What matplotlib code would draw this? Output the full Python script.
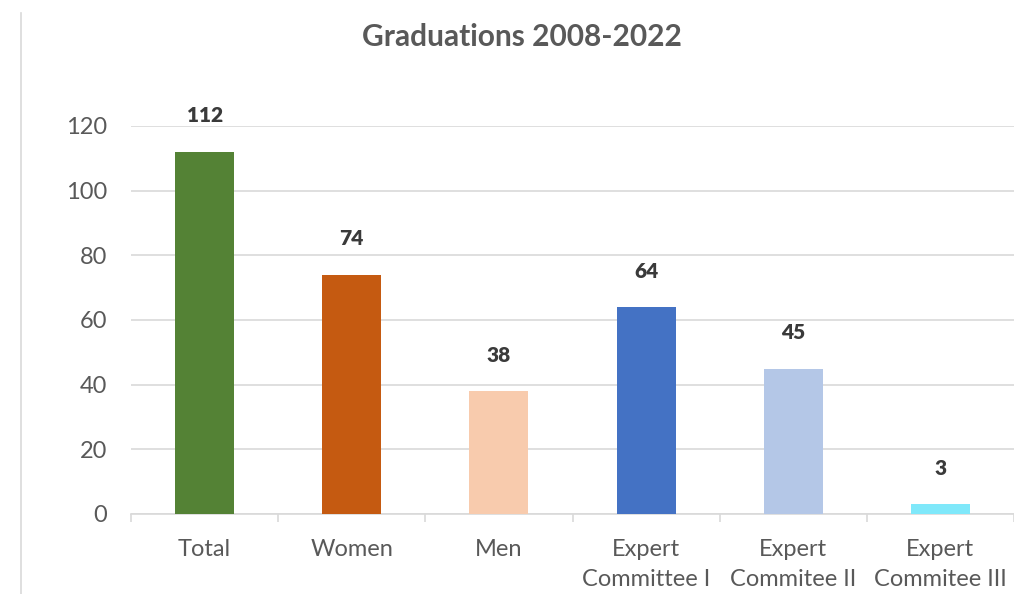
import numpy as np
import matplotlib.pyplot as plt
from matplotlib.lines import Line2D

# dati
categorie = ["Total", "Women", "Men", "Expert\nCommittee I", "Expert\nCommitee II", "Expert\nCommitee III"]
valori = [112, 74, 38, 64, 45, 3]
colori = ["#548235", "#C55A11", "#F8CBAD", "#4472C4", "#B4C7E7", "#7FE8FA"]
yticks = [0, 20, 40, 60, 80, 100, 120]

plt.rcParams['font.family'] = ['Lato', 'DejaVu Sans']
grigio = "#595959"

fig = plt.figure(figsize=(10.14, 5.94), dpi=100)
ax = fig.add_axes([131/1014, 1-514/594, 883/1014, (514-126)/594])

x = np.arange(len(categorie))
ax.bar(x, valori, width=0.4, color=colori, zorder=3)
for xi, v in zip(x, valori):
    ax.annotate(str(v), (xi, v), xytext=(0, 19), textcoords="offset points",
                ha="center", va="bottom", fontsize=15, fontweight="heavy", color="#3a3a3a")

ax.set_xlim(-0.5, len(categorie)-0.5)
ax.set_ylim(0, 120)
ax.set_yticks(yticks)
ax.grid(axis="y", color="#d9d9d9", linewidth=1.2, zorder=0)
ax.set_xticks(x)
ax.set_xticklabels(categorie, fontsize=17, color=grigio, linespacing=1.55)
ax.set_xticks(np.arange(-0.5, len(categorie)), minor=True)
ax.tick_params(axis="x", which="major", length=0, pad=18)
ax.tick_params(axis="x", which="minor", length=6, color="#d9d9d9", width=1.2)
ax.tick_params(axis="y", length=0, pad=17, labelsize=17, labelcolor=grigio)
for s in ["top", "right", "left"]:
    ax.spines[s].set_visible(False)
ax.spines["bottom"].set_color("#d9d9d9")
ax.spines["bottom"].set_linewidth(1.2)

fig.suptitle("Graduations 2008-2022", x=0.515, y=1-37/594, va="center",
             fontsize=21.5, fontweight="bold", color=grigio)

# linea verticale a sinistra
fig.add_artist(Line2D([21/1014, 21/1014], [0, 1-13/594], color="#d9d9d9", linewidth=1.2))

fig.savefig("out.png", dpi=100)
